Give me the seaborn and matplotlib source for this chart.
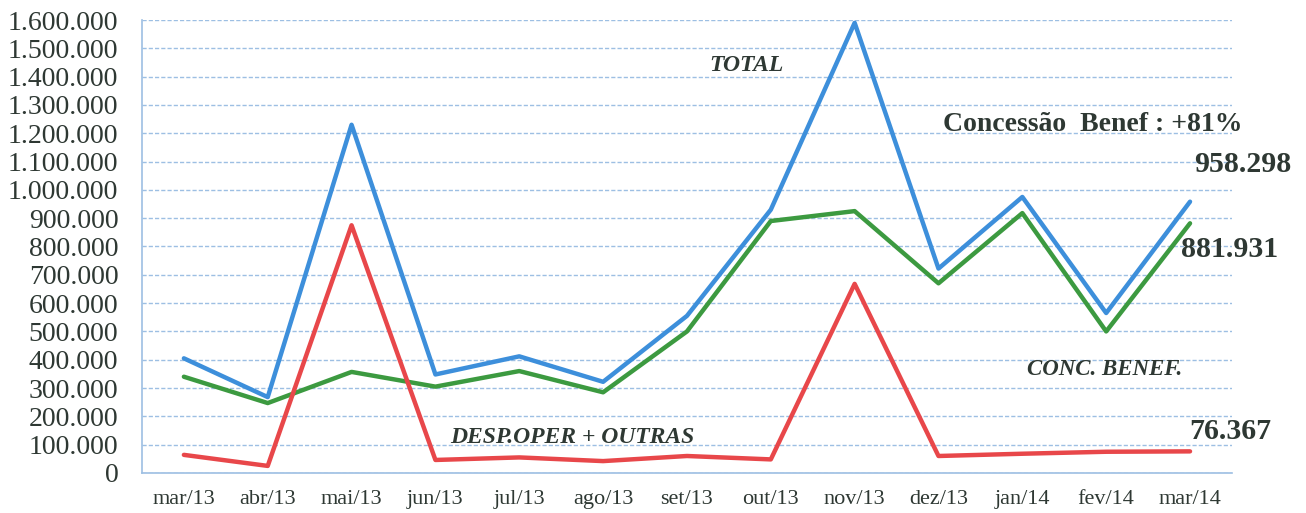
import matplotlib
matplotlib.use("Agg")
import matplotlib.pyplot as plt
import matplotlib.ticker as mticker
import pandas as pd
import seaborn as sns

# data
months = ["mar/13", "abr/13", "mai/13", "jun/13", "jul/13", "ago/13", "set/13",
          "out/13", "nov/13", "dez/13", "jan/14", "fev/14", "mar/14"]
total = [405000, 268000, 1230000, 348000, 412000, 322000, 555000,
         930000, 1590000, 722000, 975000, 565000, 958298]
conc_benef = [340000, 247000, 357000, 305000, 360000, 285000, 500000,
              890000, 925000, 670000, 918000, 500000, 881931]
desp_oper = [64000, 25000, 875000, 46000, 55000, 42000, 60000,
             48000, 668000, 60000, 68000, 75000, 76367]

series_names = ["TOTAL", "CONC. BENEF.", "DESP.OPER + OUTRAS"]
colors = ["#3d8fdb", "#3c9a40", "#e8474a"]

df = pd.DataFrame({
    "mes": months * 3,
    "valor": total + conc_benef + desp_oper,
    "serie": [series_names[0]] * 13 + [series_names[1]] * 13 + [series_names[2]] * 13,
})

sns.set_style("white")
plt.rcParams["font.family"] = ["Liberation Serif", "DejaVu Serif"]
txt = "#2e3833"
axcol = "#9dbfe3"

fig = plt.figure(figsize=(13.06, 5.13), dpi=100)
ax = fig.add_axes([0.1087, 0.078, 0.8346, 0.883])

sns.lineplot(data=df, x="mes", y="valor", hue="serie", palette=colors,
             linewidth=3.2, sort=False, legend=False, ax=ax)

ax.set_xlim(-0.5, 12.5)
ax.set_ylim(0, 1600000)
ax.set_xlabel("")
ax.set_ylabel("")

ax.yaxis.set_major_locator(mticker.MultipleLocator(100000))
ax.yaxis.set_major_formatter(mticker.FuncFormatter(lambda v, p: f"{int(v):,}".replace(",", ".")))
ax.grid(axis="y", color=axcol, linestyle=(0, (3, 1.5)), linewidth=1)
ax.set_axisbelow(True)

ax.set_xticks(range(len(months)))
ax.set_xticklabels(months)
ax.set_xticks([i - 0.5 for i in range(len(months) + 1)], minor=True)
ax.tick_params(axis="x", which="major", length=0, labelsize=16, labelcolor=txt, pad=12)
ax.tick_params(axis="x", which="minor", length=5.5, color=axcol, width=1)
ax.tick_params(axis="y", length=7, color=axcol, width=1, labelsize=20, labelcolor=txt, pad=10)

for s in ["top", "right"]:
    ax.spines[s].set_visible(False)
for s in ["left", "bottom"]:
    ax.spines[s].set_color(axcol)
    ax.spines[s].set_linewidth(1.2)

bi = dict(fontweight="bold", fontstyle="italic", color=txt, clip_on=False)
b = dict(fontweight="bold", color=txt, clip_on=False)
ax.text(6.71, 1440000, "TOTAL", ha="center", va="center", fontsize=17, **bi)
ax.text(9.05, 1230000, "Concessão  Benef : +81%", ha="left", va="center", fontsize=20, **b)
ax.text(12.05, 1090000, "958.298", ha="left", va="center", fontsize=21.5, **b)
ax.text(11.89, 790000, "881.931", ha="left", va="center", fontsize=21.5, **b)
ax.text(10.06, 364000, "CONC. BENEF.", ha="left", va="center", fontsize=16.5, **bi)
ax.text(11.99, 145000, "76.367", ha="left", va="center", fontsize=21.5, **b)
ax.text(3.18, 124000, "DESP.OPER + OUTRAS", ha="left", va="center", fontsize=17, **bi)

fig.savefig("out.png", dpi=100)
